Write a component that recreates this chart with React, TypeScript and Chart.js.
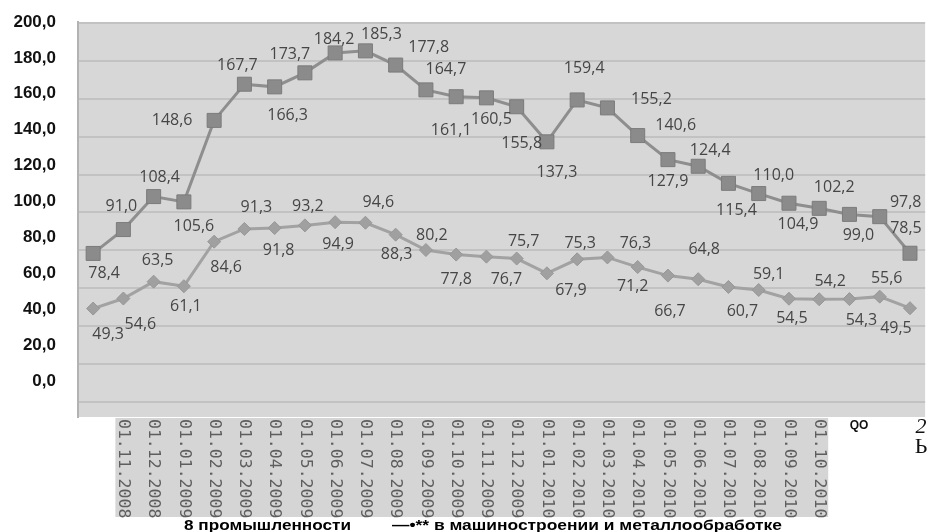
import React, { useEffect, useRef } from "react";
import { Chart, registerables } from "chart.js";

Chart.register(...registerables);

// ---- Data ----
const categories: string[] = [
  "",
  "01.11.2008", "01.12.2008",
  "01.01.2009", "01.02.2009", "01.03.2009", "01.04.2009", "01.05.2009", "01.06.2009",
  "01.07.2009", "01.08.2009", "01.09.2009", "01.10.2009", "01.11.2009", "01.12.2009",
  "01.01.2010", "01.02.2010", "01.03.2010", "01.04.2010", "01.05.2010", "01.06.2010",
  "01.07.2010", "01.08.2010", "01.09.2010", "01.10.2010",
  "", "", "",
];

const industryValues: number[] = [
  78.4, 91.0, 108.4, 105.6, 148.6, 167.7, 166.3, 173.7, 184.2, 185.3, 177.8, 164.7, 161.1, 160.5,
  155.8, 137.3, 159.4, 155.2, 140.6, 127.9, 124.4, 115.4, 110.0, 104.9, 102.2, 99.0, 97.8, 78.5,
];

const machineValues: number[] = [
  49.3, 54.6, 63.5, 61.1, 84.6, 91.3, 91.8, 93.2, 94.9, 94.6, 88.3, 80.2, 77.8, 76.7,
  75.7, 67.9, 75.3, 76.3, 71.2, 66.7, 64.8, 60.7, 59.1, 54.5, 54.2, 54.3, 55.6, 49.5,
];

const yTickValues: number[] = [0, 20, 40, 60, 80, 100, 120, 140, 160, 180, 200];

const seriesNames: string[] = ["8 промышленности", "—•** в машиностроении и металлообработке"];
const scanArtifacts: string[] = ["QO", "2", "Ь"];

// ---- Label placement (offsets of value labels from their points) ----
const industryLabelOffsets: [number, number][] = [
  [11, 20], [-2, -23], [6, -19], [10, 25], [-42, 0], [-7, -19], [13, 29], [-15, -18],
  [-1, -14], [16, -16], [33, -18], [20, -20], [-5, 34], [5, 22], [5, 37], [10, 31],
  [7, -32], [44, -8], [38, -10], [0, 22], [12, -16], [8, 27], [15, -18], [9, 21],
  [15, -21], [9, 21], [26, -14], [-4, -25],
];
const machineLabelOffsets: [number, number][] = [
  [15, 26], [17, 26], [4, -21], [2, 20], [12, 26], [12, -22], [4, 22], [3, -19],
  [3, 22], [13, -20], [1, 20], [6, -15], [0, 25], [20, 23], [7, -17], [24, 17],
  [3, -16], [28, -14], [-5, 19], [2, 36], [6, -30], [14, 24], [10, -16], [3, 20],
  [11, -18], [12, 21], [7, -18], [-14, 20],
];

const fmt = (v: number) => v.toFixed(1).replace(".", ",");

const PLOT_BG = "#d7d7d7";
const STRIP_BG = "#d5d5d5";
const GRID = "#c2c2c2";

// draws text stretched horizontally to span a given width
const fitText = (ctx: CanvasRenderingContext2D, text: string, x: number, y: number, w: number) => {
  const m = ctx.measureText(text).width;
  ctx.save();
  ctx.translate(x, y);
  ctx.scale(w / m, 1);
  ctx.fillText(text, 0, 0);
  ctx.restore();
};

const decorPlugin = {
  id: "decor",
  beforeDraw(chart: any) {
    const { ctx, chartArea: a } = chart;
    ctx.save();
    ctx.fillStyle = "#ffffff";
    ctx.fillRect(0, 0, chart.width, chart.height);
    ctx.fillStyle = PLOT_BG;
    ctx.fillRect(a.left, a.top, a.right - a.left, a.bottom - a.top);
    const xs = chart.scales.x;
    const x0 = xs.getPixelForValue(1) - 8;
    const x1 = xs.getPixelForValue(24) + 9;
    ctx.fillStyle = STRIP_BG;
    ctx.fillRect(x0, a.bottom + 1, x1 - x0, 99);
    ctx.restore();
  },
  afterDatasetsDraw(chart: any) {
    const { ctx } = chart;
    ctx.save();
    ctx.font = "16px 'Open Sans'";
    ctx.fillStyle = "#464646";
    ctx.textAlign = "center";
    ctx.textBaseline = "middle";
    const offs = [industryLabelOffsets, machineLabelOffsets];
    chart.data.datasets.forEach((ds: any, di: number) => {
      const meta = chart.getDatasetMeta(di);
      meta.data.forEach((pt: any, i: number) => {
        const [dx, dy] = offs[di][i];
        ctx.fillText(fmt(ds.data[i]), pt.x + dx, pt.y + dy);
      });
    });
    ctx.restore();
  },
  afterDraw(chart: any) {
    const { ctx, chartArea: a } = chart;
    const xs = chart.scales.x;
    ctx.save();
    // rotated category labels
    ctx.font = "16.5px 'DejaVu Sans Mono'";
    ctx.fillStyle = "#5e5e5e";
    ctx.textAlign = "left";
    ctx.textBaseline = "middle";
    categories.forEach((lab, i) => {
      if (!lab) return;
      const x = xs.getPixelForValue(i);
      ctx.save();
      ctx.translate(x, a.bottom + 2);
      ctx.rotate(Math.PI / 2);
      ctx.fillText(lab, 0, 0);
      ctx.restore();
    });
    // scan artifacts at the right end of the axis
    ctx.fillStyle = "#111";
    ctx.textBaseline = "alphabetic";
    ctx.font = "bold 12px 'Liberation Sans'";
    ctx.textAlign = "center";
    ctx.fillText(scanArtifacts[0], 859, 429);
    ctx.font = "italic 22px 'Liberation Serif'";
    ctx.fillText(scanArtifacts[1], 921, 433);
    ctx.font = "22px 'Liberation Serif'";
    ctx.fillText(scanArtifacts[2], 921, 453);
    // legend texts
    ctx.font = "bold 15.5px 'Liberation Sans'";
    ctx.textAlign = "left";
    ctx.fillStyle = "#000";
    fitText(ctx, seriesNames[0], 184, 530, 167);
    fitText(ctx, seriesNames[1], 392, 530, 390);
    ctx.restore();
  },
};

export default function App() {
  const ref = useRef<HTMLCanvasElement | null>(null);
  useEffect(() => {
    document.body.style.margin = "0";
    if (!ref.current) return;
    const setTicks = (s: any) => {
      s.ticks = yTickValues.map((v) => ({ value: v }));
    };
    const chart = new Chart(ref.current, {
      type: "line",
      data: {
        labels: categories,
        datasets: [
          {
            label: seriesNames[0],
            data: industryValues,
            borderColor: "#8e8e8e",
            borderWidth: 3,
            pointStyle: "rect",
            pointRadius: 9.9,
            pointBackgroundColor: "#8b8b8b",
            pointBorderColor: "#7b7b7b",
            pointBorderWidth: 1,
            yAxisID: "y",
            tension: 0,
          },
          {
            label: seriesNames[1],
            data: machineValues,
            borderColor: "#a2a2a2",
            borderWidth: 3,
            pointStyle: "rectRot",
            pointRadius: 6.5,
            pointBackgroundColor: "#a0a0a0",
            pointBorderColor: "#979797",
            pointBorderWidth: 1,
            yAxisID: "y",
            tension: 0,
          },
        ],
      },
      options: {
        responsive: false,
        animation: false,
        layout: { padding: { top: 22, bottom: 115, left: 0, right: 0 } },
        plugins: { legend: { display: false }, tooltip: { enabled: false } },
        scales: {
          x: {
            type: "category",
            offset: true,
            ticks: { display: false },
            grid: { display: false, drawTicks: false },
            border: { display: false },
            afterFit: (s: any) => {
              s.height = 0;
              s.paddingLeft = 0;
              s.paddingRight = 0;
            },
          },
          y: {
            position: "left",
            weight: 0,
            min: -7.92,
            max: 200.53,
            afterBuildTicks: setTicks,
            ticks: { display: false },
            grid: { color: GRID, lineWidth: 2, drawTicks: false },
            border: { display: true, color: "#b3b3b3", width: 2 },
            afterFit: (s: any) => {
              s.width = 0;
              s.paddingTop = 0;
              s.paddingBottom = 0;
            },
          },
          yLabels: {
            position: "left",
            weight: 1,
            min: -20.06,
            max: 200,
            afterBuildTicks: setTicks,
            ticks: {
              font: { family: "'Liberation Sans'", size: 17, weight: "bold" },
              color: "#111",
              padding: 22,
              callback: (v: any) => fmt(Number(v)),
            },
            grid: { display: false, drawTicks: false },
            border: { display: false },
            afterFit: (s: any) => {
              s.width = 78;
              s.paddingTop = 0;
              s.paddingBottom = 0;
            },
          },
        },
      },
      plugins: [decorPlugin],
    });
    return () => chart.destroy();
  }, []);
  return (
    <div style={{ width: 936, height: 532 }}>
      <canvas ref={ref} width={936} height={532} style={{ display: "block" }} />
    </div>
  );
}
